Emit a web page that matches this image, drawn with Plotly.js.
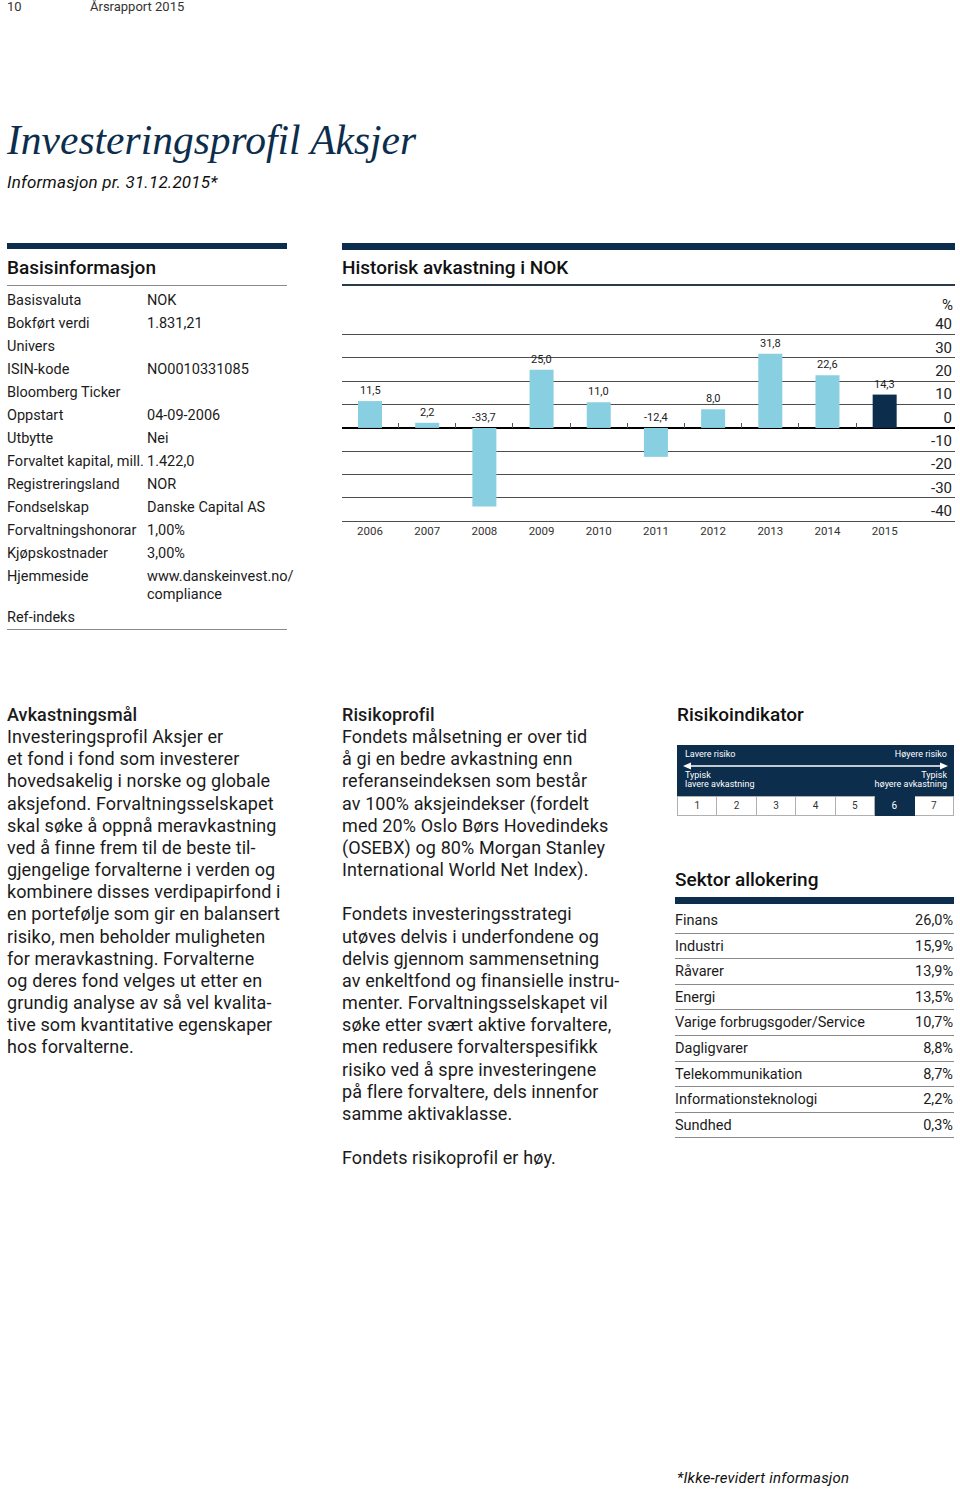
<!DOCTYPE html>
<html>
<head>
<meta charset="utf-8">
<script src="https://cdn.plot.ly/plotly-3.0.1.min.js"></script>
<style>
  html,body{margin:0;padding:0;background:#fff;}
  body{width:960px;height:1489px;position:relative;overflow:hidden;font-family:Roboto,"Open Sans",sans-serif;color:#1b1b1b;}
  .abs{position:absolute;}
  .navybar{position:absolute;background:#0c2d4c;}
  .hdr{position:absolute;font-size:19px;font-weight:500;line-height:24px;color:#111;}
  .row{height:23px;line-height:23px;font-size:14.5px;position:relative;white-space:nowrap;}
  .row .v{position:absolute;left:140px;top:0;}
  .body{position:absolute;font-size:18px;line-height:22.15px;white-space:nowrap;letter-spacing:0.1px;}
  .body b{font-weight:500;}
  .srow{height:24.6px;line-height:25px;font-size:14.5px;border-bottom:1.5px solid #8a8a8a;position:relative;white-space:nowrap;}
  .srow .v{position:absolute;right:1px;top:0;}
  table.risk{border-collapse:collapse;}
</style>
</head>
<body>
<div class="abs" style="left:7px;top:0;font-size:13px;line-height:14px;color:#333;">10</div>
<div class="abs" style="left:90px;top:0;font-size:13px;line-height:14px;color:#333;">Årsrapport 2015</div>
<div class="abs" style="left:7px;top:117px;font-family:'Liberation Serif',serif;font-style:italic;font-size:41.5px;line-height:46px;color:#0c2d4c;white-space:nowrap;">Investeringsprofil Aksjer</div>
<div class="abs" style="left:7px;top:172px;font-style:italic;font-size:17px;line-height:20px;color:#111;white-space:nowrap;letter-spacing:0.2px;">Informasjon pr. 31.12.2015*</div>

<!-- Basisinformasjon -->
<div class="navybar" style="left:7px;top:243px;width:280px;height:6px;"></div>
<div class="hdr" style="left:7px;top:256px;">Basisinformasjon</div>
<div class="abs" style="left:7px;top:285px;width:280px;height:1px;background:#8a8a8a;"></div>
<div class="abs" id="basis" style="left:7px;top:289px;width:280px;"></div>
<div class="abs" style="left:7px;top:629px;width:280px;height:1px;background:#8a8a8a;"></div>

<!-- Historisk avkastning -->
<div class="navybar" style="left:342px;top:243px;width:613px;height:7px;"></div>
<div class="hdr" style="left:342px;top:256px;">Historisk avkastning i NOK</div>
<div class="abs" style="left:342px;top:284px;width:613px;height:2px;background:#2a3a4a;"></div>
<div class="abs" id="chart" style="left:342px;top:290px;width:613px;height:260px;"></div>

<!-- Text columns -->
<div class="body" style="left:7px;top:704px;"><b>Avkastningsmål</b><br>Investeringsprofil Aksjer er<br>et fond i fond som investerer<br>hovedsakelig i norske og globale<br>aksjefond. Forvaltningsselskapet<br>skal søke å oppnå meravkastning<br>ved å finne frem til de beste til-<br>gjengelige forvalterne i verden og<br>kombinere disses verdipapirfond i<br>en portefølje som gir en balansert<br>risiko, men beholder muligheten<br>for meravkastning. Forvalterne<br>og deres fond velges ut etter en<br>grundig analyse av så vel kvalita-<br>tive som kvantitative egenskaper<br>hos forvalterne.</div>

<div class="body" style="left:342px;top:704px;"><b>Risikoprofil</b><br>Fondets målsetning er over tid<br>å gi en bedre avkastning enn<br>referanseindeksen som består<br>av 100% aksjeindekser (fordelt<br>med 20% Oslo Børs Hovedindeks<br>(OSEBX) og 80% Morgan Stanley<br>International World Net Index).<br><br>Fondets investeringsstrategi<br>utøves delvis i underfondene og<br>delvis gjennom sammensetning<br>av enkeltfond og finansielle instru-<br>menter. Forvaltningsselskapet vil<br>søke etter svært aktive forvaltere,<br>men redusere forvalterspesifikk<br>risiko ved å spre investeringene<br>på flere forvaltere, dels innenfor<br>samme aktivaklasse.<br><br>Fondets risikoprofil er høy.</div>

<!-- Risikoindikator -->
<div class="hdr" style="left:677px;top:703px;">Risikoindikator</div>
<div class="abs" style="left:677px;top:745px;width:277px;height:51px;background:#0c2d4c;color:#fff;font-size:9px;">
  <div class="abs" style="left:8px;top:4px;line-height:10px;">Lavere risiko</div>
  <div class="abs" style="right:7px;top:4px;line-height:10px;">Høyere risiko</div>
  <svg class="abs" style="left:6px;top:17px;" width="265" height="8">
    <line x1="4" y1="4" x2="261" y2="4" stroke="#fff" stroke-width="1.5"/>
    <polygon points="0,4 8,0.5 8,7.5" fill="#fff"/>
    <polygon points="265,4 257,0.5 257,7.5" fill="#fff"/>
  </svg>
  <div class="abs" style="left:8px;top:26px;line-height:9px;">Typisk<br>lavere avkastning</div>
  <div class="abs" style="right:7px;top:26px;line-height:9px;text-align:right;">Typisk<br>høyere avkastning</div>
</div>
<div class="abs" id="risk" style="left:677px;top:796px;width:277px;"></div>

<!-- Sektor allokering -->
<div class="hdr" style="left:675px;top:868px;">Sektor allokering</div>
<div class="navybar" style="left:675px;top:897px;width:279px;height:7px;"></div>
<div class="abs" id="sektor" style="left:675px;top:908px;width:279px;"></div>

<div class="abs" style="left:677px;top:1468px;font-style:italic;font-size:15px;line-height:20px;color:#111;white-space:nowrap;letter-spacing:0.2px;">*Ikke-revidert informasjon</div>

<script>
// ---- Data ----
var years = ['2006','2007','2008','2009','2010','2011','2012','2013','2014','2015'];
var returns = [11.5, 2.2, -33.7, 25.0, 11.0, -12.4, 8.0, 31.8, 22.6, 14.3];
var yTicks = [-40, -30, -20, -10, 0, 10, 20, 30, 40];

var basisLabels = ['Basisvaluta','Bokført verdi','Univers','ISIN-kode','Bloomberg Ticker','Oppstart','Utbytte','Forvaltet kapital, mill.','Registreringsland','Fondselskap','Forvaltningshonorar','Kjøpskostnader','Hjemmeside','Ref-indeks'];
var basisValues = ['NOK','1.831,21','','NO0010331085','','04-09-2006','Nei','1.422,0','NOR','Danske Capital AS','1,00%','3,00%','www.danskeinvest.no/\ncompliance',''];

var riskLevels = [1,2,3,4,5,6,7];
var riskActive = 6;

var sectors = ['Finans','Industri','Råvarer','Energi','Varige forbrugsgoder/Service','Dagligvarer','Telekommunikation','Informationsteknologi','Sundhed'];
var sectorShares = [26.0, 15.9, 13.9, 13.5, 10.7, 8.8, 8.7, 2.2, 0.3];

function fmt(v){ return v.toFixed(1).replace('.', ','); }

// ---- Basisinformasjon table ----
var bh = '';
basisLabels.forEach(function(l, i){
  var v = basisValues[i];
  if (v.indexOf('\n') >= 0) {
    var parts = v.split('\n');
    bh += '<div class="row" style="height:41px;">' + l + '<div class="v">' + parts[0] + '<div style="line-height:18px;margin-top:-2px;">' + parts[1] + '</div></div></div>';
  } else {
    bh += '<div class="row">' + l + '<div class="v">' + v + '</div></div>';
  }
});
document.getElementById('basis').innerHTML = bh;

// ---- Risk scale ----
var rh = '<table class="risk" style="width:277px;"><tr>';
riskLevels.forEach(function(n){
  var act = n === riskActive;
  rh += '<td style="width:39.5px;height:18px;padding:0;border:1px solid #b0b0b0;text-align:center;font-size:10px;line-height:18px;' +
        (act ? 'background:#0c2d4c;color:#fff;border-color:#0c2d4c;' : 'color:#333;') + '">' + n + '</td>';
});
rh += '</tr></table>';
document.getElementById('risk').innerHTML = rh;

// ---- Sector table ----
var sh = '';
sectors.forEach(function(s, i){
  sh += '<div class="srow">' + s + '<div class="v">' + fmt(sectorShares[i]) + '%</div></div>';
});
document.getElementById('sektor').innerHTML = sh;

// ---- Chart ----
var colors = years.map(function(y, i){ return i === years.length - 1 ? '#0c2d4c' : '#88cfe1'; });
var yRange = [-41.2, 48];
var xRange = [-0.49, 10.23];

var bars = {
  type: 'bar', x: years, y: returns,
  marker: {color: colors, line: {width: 0}},
  hoverinfo: 'skip', showlegend: false
};
var dummy = {
  type: 'scatter', mode: 'markers', x: [0], y: [0], xaxis: 'x2',
  marker: {opacity: 0}, hoverinfo: 'skip', showlegend: false
};

var annotations = returns.map(function(v, i){
  return {
    x: i, y: Math.max(v, 0), xref: 'x', yref: 'y',
    text: fmt(v), showarrow: false, yanchor: 'bottom', yshift: 2,
    font: {family: 'Roboto, sans-serif', size: 11, color: '#222'}
  };
});
annotations.push({
  x: 1, y: 1, xref: 'paper', yref: 'paper', xanchor: 'right', yanchor: 'bottom',
  yshift: 0, text: '%', showarrow: false,
  font: {family: 'Roboto, sans-serif', size: 15, color: '#222'}
});

var layout = {
  width: 613, height: 260,
  margin: {l: 0, r: 0, t: 26, b: 26, pad: 0},
  paper_bgcolor: 'rgba(0,0,0,0)', plot_bgcolor: 'rgba(0,0,0,0)',
  bargap: 0.58,
  font: {family: 'Roboto, sans-serif', color: '#222'},
  xaxis: {
    type: 'category', range: xRange,
    showgrid: false, zeroline: false, showline: false,
    ticks: '', tickfont: {size: 11.5, color: '#333'}, ticklabelstandoff: -2, fixedrange: true
  },
  xaxis2: {
    overlaying: 'x', anchor: 'free',
    position: (0 - yRange[0]) / (yRange[1] - yRange[0]), side: 'bottom',
    range: xRange, showgrid: false, zeroline: false, showline: false,
    showticklabels: false, tickmode: 'array',
    tickvals: years.slice(1).map(function(_, i){ return i + 0.5; }),
    ticks: 'inside', ticklen: 5, tickwidth: 1, tickcolor: '#555'
  },
  yaxis: {
    range: yRange, side: 'right',
    tickmode: 'array', tickvals: yTicks, ticktext: yTicks.map(String),
    ticklabelposition: 'inside top', ticklabeloverflow: 'allow',
    tickfont: {size: 15, color: '#222'},
    showgrid: true, gridcolor: '#4d4d4d', gridwidth: 1,
    zeroline: true, zerolinecolor: '#000', zerolinewidth: 2,
    showline: false, ticks: '', fixedrange: true
  },
  annotations: annotations
};

Plotly.newPlot('chart', [bars, dummy], layout, {staticPlot: true, displayModeBar: false});
</script>
</body>
</html>
